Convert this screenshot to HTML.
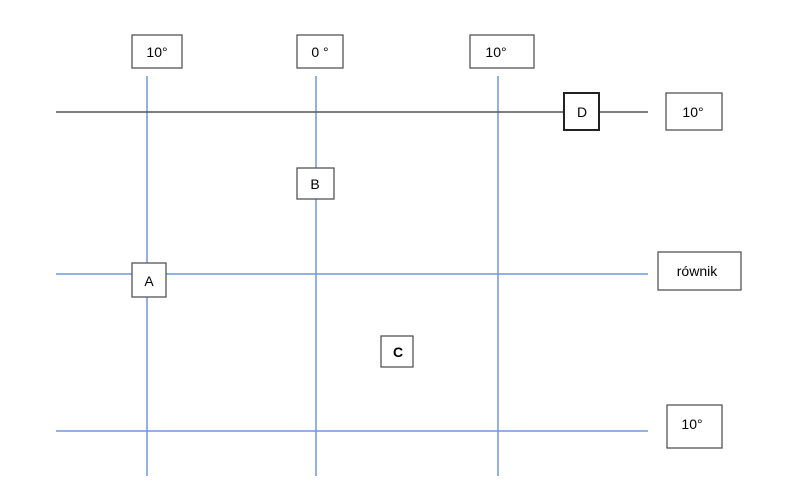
<!DOCTYPE html>
<html><head><meta charset="utf-8"><style>
html,body{margin:0;padding:0;background:#fff;}
svg{display:block;}
text{font-family:"Liberation Sans","DejaVu Sans",sans-serif;font-size:14px;fill:#000;}
</style></head><body>
<svg width="797" height="497" viewBox="0 0 797 497" xmlns="http://www.w3.org/2000/svg">
<g stroke="#6f98de" stroke-width="1.5" fill="none">
<line x1="147" y1="76" x2="147" y2="476"/>
<line x1="316" y1="76" x2="316" y2="476"/>
<line x1="498" y1="76" x2="498" y2="476"/>
<line x1="56" y1="274" x2="648" y2="274"/>
<line x1="56" y1="431" x2="648" y2="431"/>
</g>
<line x1="56" y1="112" x2="648" y2="112" stroke="#555" stroke-width="1.5"/>
<g fill="#fff" stroke="#555" stroke-width="1.3">
<rect x="132" y="35" width="50" height="33"/>
<rect x="297" y="35" width="46" height="33"/>
<rect x="470" y="35" width="64" height="33"/>
<rect x="666" y="93" width="56" height="37"/>
<rect x="297" y="168" width="37" height="31"/>
<rect x="132" y="263" width="34" height="34"/>
<rect x="658" y="252" width="83" height="38"/>
<rect x="381" y="336" width="32" height="31"/>
<rect x="667" y="405" width="55" height="43"/>
</g>
<rect x="564" y="93" width="35" height="37" fill="#fff" stroke="#222" stroke-width="2"/>
<text x="157" y="57" text-anchor="middle">10°</text>
<text x="320" y="57" text-anchor="middle">0 °</text>
<text x="496" y="57" text-anchor="middle">10°</text>
<text x="582" y="117" text-anchor="middle">D</text>
<text x="693" y="117" text-anchor="middle">10°</text>
<text x="315" y="189" text-anchor="middle">B</text>
<text x="149" y="286" text-anchor="middle">A</text>
<text x="697" y="276" text-anchor="middle">równik</text>
<text x="398" y="357" text-anchor="middle" font-weight="bold">C</text>
<text x="692" y="429" text-anchor="middle">10°</text>
</svg>
</body></html>
